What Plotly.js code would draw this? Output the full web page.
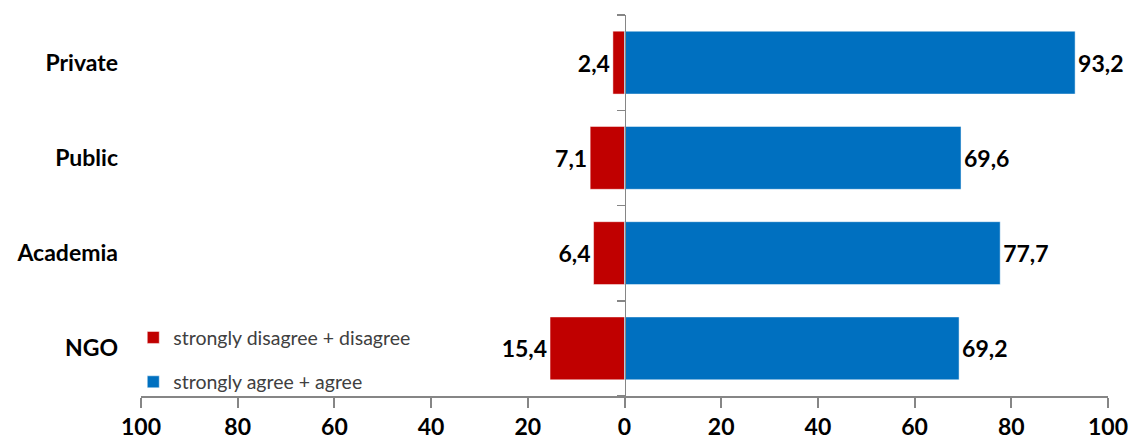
<!DOCTYPE html>
<html>
<head>
<meta charset="utf-8">
<script src="https://cdn.plot.ly/plotly-3.0.1.min.js"></script>
<style>html,body{margin:0;padding:0;background:#fff;}#chart{width:1144px;height:447px;}</style>
</head>
<body>
<div id="chart"></div>
<script>
const categories = ['Private', 'Public', 'Academia', 'NGO'];
const disagree = [2.4, 7.1, 6.4, 15.4];
const agree = [93.2, 69.6, 77.7, 69.2];
const seriesNames = ['strongly disagree + disagree', 'strongly agree + agree'];
const tickValues = [-100, -80, -60, -40, -20, 0, 20, 40, 60, 80, 100];
const tickLabels = ['100', '80', '60', '40', '20', '0', '20', '40', '60', '80', '100'];
const boundaryTicks = [-0.5, 0.5, 1.5, 2.5, 3.5];

const fmt = v => v.toFixed(1).replace('.', ',');
const boldFont = {family: 'Lato, sans-serif', size: 23, color: '#000000', weight: 'bold'};
const axisGrey = '#868686';

const traces = [
  {
    type: 'bar', orientation: 'h', name: seriesNames[0], legendgroup: 'a',
    y: categories, x: disagree.map(v => -v),
    text: disagree.map(fmt), textposition: 'outside', textfont: boldFont,
    marker: {color: '#C00000', line: {color: 'rgba(255,255,255,0.6)', width: 0.8}},
    cliponaxis: false, constraintext: 'none', hoverinfo: 'skip'
  },
  {
    type: 'bar', orientation: 'h', name: seriesNames[1], legendgroup: 'b',
    y: categories, x: agree,
    text: agree.map(fmt), textposition: 'outside', textfont: boldFont,
    marker: {color: '#0070C0', line: {color: 'rgba(255,255,255,0.6)', width: 0.8}},
    cliponaxis: false, constraintext: 'none', hoverinfo: 'skip'
  },
  {
    type: 'scatter', mode: 'none', x: [0], y: [0], yaxis: 'y2',
    showlegend: false, hoverinfo: 'skip'
  }
];

const layout = {
  width: 1144, height: 447,
  margin: {l: 141, r: 36, t: 15, b: 51},
  paper_bgcolor: '#ffffff', plot_bgcolor: '#ffffff',
  barmode: 'relative', bargap: 0.34,
  showlegend: true,
  legend: {
    x: -0.008, xanchor: 'left', y: 0.204, yanchor: 'top',
    traceorder: 'grouped', tracegroupgap: 16,
    font: {family: 'Lato, sans-serif', size: 19.5, color: '#404040'},
    bgcolor: 'rgba(255,255,255,0)'
  },
  xaxis: {
    range: [-100, 100], tickmode: 'array', tickvals: tickValues, ticktext: tickLabels,
    showline: true, linecolor: axisGrey, linewidth: 1.5,
    ticks: 'outside', ticklen: 10, tickwidth: 2, tickcolor: axisGrey,
    showgrid: false, zeroline: false, fixedrange: true,
    tickfont: boldFont
  },
  yaxis: {
    type: 'category', categoryarray: categories, autorange: 'reversed',
    showline: false, ticks: '', showgrid: false, zeroline: false,
    ticklabelstandoff: 22, tickfont: boldFont, fixedrange: true
  },
  yaxis2: {
    overlaying: 'y', anchor: 'free', position: 0.5, side: 'left',
    range: [3.5, -0.5], tickmode: 'array', tickvals: boundaryTicks,
    showticklabels: false, ticks: 'outside', ticklen: 8, tickwidth: 1.5, tickcolor: axisGrey,
    showline: true, linecolor: axisGrey, linewidth: 1.5,
    showgrid: false, zeroline: false, fixedrange: true
  },
  font: {family: 'Lato, sans-serif'}
};

Plotly.newPlot('chart', traces, layout, {displayModeBar: false, staticPlot: true});
</script>
</body>
</html>
